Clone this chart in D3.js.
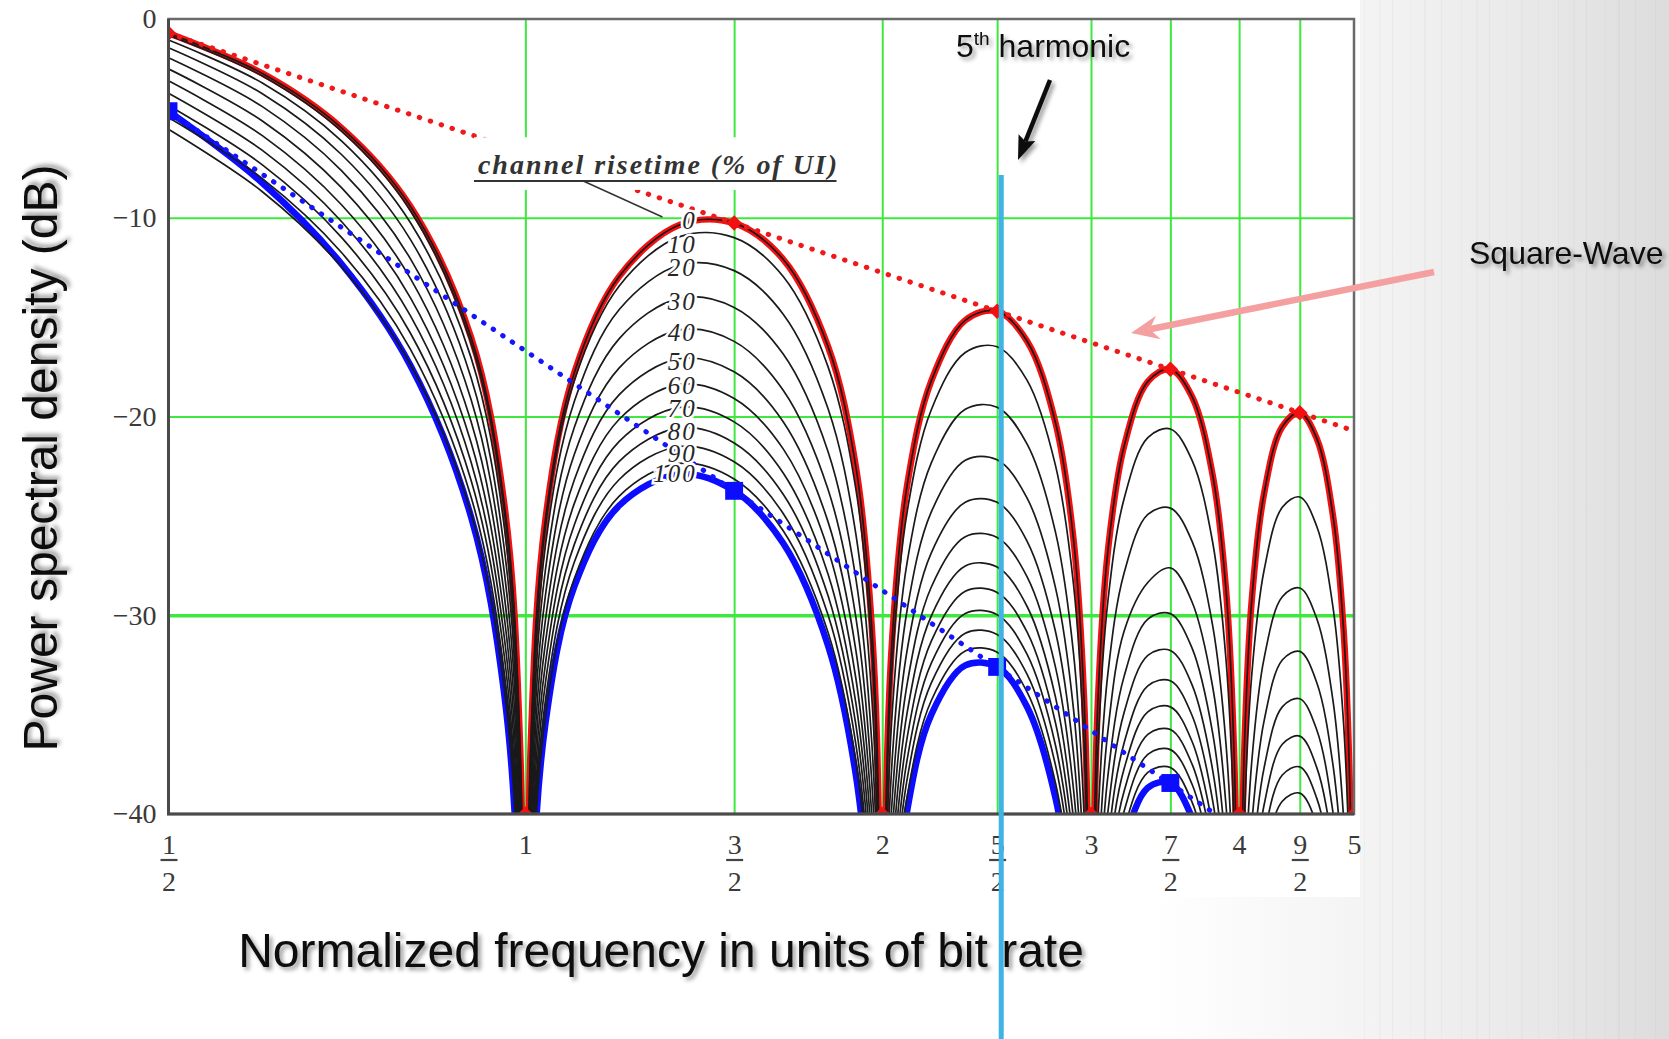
<!DOCTYPE html>
<html>
<head>
<meta charset="utf-8">
<script src="https://cdn.jsdelivr.net/npm/d3@7"></script>
<style>
  html, body { margin: 0; padding: 0; background: #fff; }
  svg { display: block; }
</style>
</head>
<body>
<script>
// frequency grid, in units of bit rate
var freq = [0.5, 0.6, 0.7, 0.8, 0.9, 0.96, 0.99, 1.0,
            1.01, 1.04, 1.1, 1.2, 1.35, 1.5, 1.65, 1.8, 1.9, 1.96, 1.99, 2.0,
            2.01, 2.04, 2.1, 2.2, 2.35, 2.5, 2.65, 2.8, 2.9, 2.96, 2.99, 3.0,
            3.01, 3.04, 3.1, 3.2, 3.35, 3.5, 3.65, 3.8, 3.9, 3.96, 3.99, 4.0,
            4.01, 4.04, 4.1, 4.2, 4.35, 4.5, 4.65, 4.8, 4.9, 4.96, 4.99, 5.0];

// PSD (dB) per channel risetime (values below -40 are off-chart)
var rt0   = [-0.72, -2.74, -5.49, -9.43, -16.03, -24.43, -36.72, -80,
             -36.89, -25.12, -17.77, -12.95, -10.35, -10.27, -12.09, -16.47, -22.52, -30.63, -42.78, -80,
             -42.87, -30.98, -23.39, -18.21, -15.16, -14.70, -16.21, -20.31, -26.19, -34.21, -46.32, -80,
             -46.37, -34.44, -26.77, -21.47, -18.24, -17.62, -18.99, -22.96, -28.76, -36.74, -48.82, -80,
             -48.87, -36.91, -29.20, -23.83, -20.51, -19.81, -21.09, -24.99, -30.75, -38.69, -50.77, -80];
var rt10  = [-0.81, -2.87, -5.66, -9.65, -16.31, -24.75, -37.05, -80,
             -37.24, -25.49, -18.18, -13.43, -10.95, -11.00, -12.96, -17.49, -23.64, -31.82, -44.00, -80,
             -44.11, -32.25, -24.73, -19.66, -16.78, -16.49, -18.18, -22.46, -28.46, -36.55, -48.70, -80,
             -48.8, -36.88, -29.29, -24.11, -21.06, -20.63, -22.19, -26.34, -32.27, -40.32, -52.4, -80,
             -52.5, -40.59, -32.95, -27.70, -24.57, -24.05, -25.51, -29.59, -35.46, -43.47, -55.6, -80];
var rt20  = [-1.06, -3.22, -6.14, -10.25, -17.05, -25.57, -37.93, -80,
             -38.14, -26.43, -19.22, -14.62, -12.38, -12.66, -14.85, -19.60, -25.90, -34.16, -46.38, -80,
             -46.52, -34.71, -27.26, -22.33, -19.64, -19.53, -21.39, -25.82, -31.93, -40.08, -52.25, -80,
             -52.3, -40.48, -32.94, -27.85, -24.93, -24.61, -26.27, -30.53, -36.52, -44.61, -56.8, -80,
             -56.8, -44.92, -37.32, -32.13, -29.07, -28.63, -30.15, -34.30, -40.22, -48.3, -60.3, -80];
var rt30  = [-1.45, -3.76, -6.83, -11.10, -18.06, -26.68, -39.08, -80,
             -39.32, -27.66, -20.53, -16.08, -14.04, -14.51, -16.86, -21.76, -28.15, -36.45, -48.70, -80,
             -48.86, -37.06, -29.66, -24.80, -22.20, -22.18, -24.11, -28.61, -34.75, -42.92, -55.11, -80,
             -55.2, -43.36, -35.83, -30.78, -28.35, -27.62, -29.32, -33.61, -39.61, -47.72, -59.9, -80,
             -60.0, -48.05, -40.46, -35.28, -32.25, -31.82, -33.37, -37.53, -43.45, -51.5, -63.6, -80];
var rt40  = [-1.95, -4.41, -7.64, -12.07, -19.16, -27.86, -40.30, -80,
             -40.57, -28.95, -21.89, -17.55, -15.64, -16.22, -18.68, -23.66, -30.09, -38.42, -50.69, -80,
             -50.85, -39.07, -31.69, -26.86, -24.31, -24.32, -26.28, -30.82, -36.98, -45.16, -57.35, -80,
             -57.4, -45.60, -38.09, -33.05, -30.19, -29.92, -31.64, -35.94, -41.96, -50.06, -62.2, -80,
             -62.3, -50.40, -42.81, -37.64, -34.61, -34.20, -35.75, -39.92, -45.85, -53.9, -66.0, -80];
var rt50  = [-2.51, -5.13, -8.50, -13.06, -20.27, -29.03, -41.49, -80,
             -41.78, -30.18, -23.17, -18.90, -17.09, -17.75, -20.26, -25.29, -31.75, -40.10, -52.36, -80,
             -52.53, -40.75, -33.39, -28.58, -26.05, -26.09, -28.07, -32.61, -38.78, -46.97, -59.16, -80,
             -59.3, -47.42, -39.91, -34.87, -32.02, -31.77, -33.49, -37.80, -43.82, -51.93, -64.1, -80,
             -64.2, -52.26, -44.68, -39.51, -36.49, -36.08, -37.64, -41.81, -47.74, -55.8, -67.9, -80];
var rt60  = [-3.11, -5.87, -9.36, -14.03, -21.32, -30.12, -42.61, -80,
             -42.91, -31.33, -24.36, -20.14, -18.38, -19.09, -21.63, -26.69, -33.17, -41.53, -53.80, -80,
             -53.97, -42.20, -34.84, -30.03, -27.52, -27.57, -29.56, -34.12, -40.29, -48.48, -60.68, -80,
             -60.8, -48.94, -41.43, -36.40, -33.55, -33.30, -35.03, -39.34, -45.36, -53.47, -65.7, -80,
             -65.7, -53.81, -46.22, -41.06, -38.04, -37.63, -39.19, -43.36, -49.30, -57.4, -69.5, -80];
var rt70  = [-3.73, -6.61, -10.20, -14.94, -22.30, -31.14, -43.64, -80,
             -43.95, -32.38, -25.43, -21.25, -19.54, -20.27, -22.84, -27.92, -34.41, -42.77, -55.04, -80,
             -55.22, -43.45, -36.09, -31.30, -28.79, -28.85, -30.85, -35.41, -41.59, -49.78, -61.97, -80,
             -62.1, -50.23, -42.73, -37.70, -34.86, -34.61, -36.34, -40.65, -46.67, -54.78, -67.0, -80,
             -67.0, -55.12, -47.54, -42.38, -39.36, -38.95, -40.51, -44.68, -50.62, -58.7, -70.8, -80];
var rt80  = [-4.35, -7.34, -11.00, -15.81, -23.22, -32.08, -44.59, -80,
             -44.90, -33.35, -26.42, -22.26, -20.57, -21.33, -23.91, -29.01, -35.50, -43.87, -56.14, -80,
             -56.32, -44.55, -37.20, -32.41, -29.91, -29.97, -31.97, -36.54, -42.72, -50.91, -63.11, -80,
             -63.2, -51.37, -43.86, -38.83, -35.99, -35.75, -37.48, -41.79, -47.82, -55.93, -68.1, -80,
             -68.2, -56.27, -48.69, -43.52, -40.51, -40.10, -41.66, -45.83, -51.77, -59.9, -71.9, -80];
var rt90  = [-4.96, -8.03, -11.76, -16.62, -24.06, -32.94, -45.46, -80,
             -45.78, -34.23, -27.31, -23.17, -21.51, -22.28, -24.88, -29.98, -36.48, -44.85, -57.12, -80,
             -57.30, -45.53, -38.18, -33.40, -30.90, -30.97, -32.97, -37.54, -43.72, -51.91, -64.11, -80,
             -64.2, -52.37, -44.87, -39.84, -37.00, -36.76, -38.49, -42.80, -48.83, -56.94, -69.1, -80,
             -69.2, -57.28, -49.70, -44.53, -41.52, -41.11, -42.67, -46.85, -52.79, -60.9, -72.9, -80];
var rt100 = [-5.55, -8.69, -12.48, -17.37, -24.85, -33.74, -46.26, -80,
             -46.59, -35.05, -28.14, -24.01, -22.36, -23.14, -25.75, -30.86, -37.36, -45.73, -58.01, -80,
             -58.18, -46.42, -39.07, -34.29, -31.80, -31.86, -33.87, -38.44, -44.62, -52.82, -65.01, -80,
             -65.1, -53.27, -45.77, -40.74, -37.91, -37.66, -39.39, -43.71, -49.74, -57.85, -70.0, -80,
             -70.1, -58.19, -50.61, -45.44, -42.43, -42.02, -43.58, -47.76, -53.70, -61.8, -73.8, -80];
// thick blue curve
var blueCurve = [-4.64, -8.25, -12.34, -17.44, -25.06, -34.02, -46.58, -80,
                 -46.92, -35.40, -28.54, -24.48, -22.90, -23.74, -26.38, -31.52, -38.04, -46.42, -58.7, -80,
                 -58.88, -47.12, -39.78, -35.00, -32.52, -32.60, -34.62, -39.20, -45.38, -53.58, -65.8, -80,
                 -66.0, -54.04, -46.54, -41.52, -38.68, -38.44, -40.18, -44.50, -50.50, -58.60, -70.8, -80,
                 -71.0, -59.0, -51.4, -46.2, -43.2, -42.8, -44.4, -48.6, -54.5, -62.5, -74.7, -80];

var riseSeries = [rt0, rt10, rt20, rt30, rt40, rt50, rt60, rt70, rt80, rt90, rt100];
var riseNames  = ["0", "10", "20", "30", "40", "50", "60", "70", "80", "90", "100"];
var riseLabelDb = [-10.15, -11.35, -12.5, -14.2, -15.75, -17.2, -18.45, -19.6, -20.75, -21.85, -22.85];

// dotted envelopes
var squareEnvFreq = [0.5, 5];
var squareEnvDb   = [-0.72, -20.72];
var blueEnvFreq   = [0.5, 3.82];
var blueEnvDb     = [-4.64, -40];

var peakFreq = [0.5, 1.5, 2.5, 3.5, 4.5];
var bluePeakFreq = [0.5, 1.5, 2.5, 3.5];
var nullFreq = [1, 2, 3, 4, 5];
var harmonicFreq = 2.52;

var yTicks = [0, -10, -20, -30, -40];
var yTickLabels = ["0", "\u221210", "\u221220", "\u221230", "\u221240"];
var xTicks = [0.5, 1, 1.5, 2, 2.5, 3, 3.5, 4, 4.5, 5];
var xTickNum = ["1", "1", "3", "2", "5", "3", "7", "4", "9", "5"];
var xTickDen = ["2", "", "2", "", "2", "", "2", "", "2", ""];
var gridX = [1, 1.5, 2, 2.5, 3, 3.5, 4, 4.5];
var gridY = [-10, -20, -30];

var width = 1669, height = 1039;
var plot = {left: 168.5, right: 1354, top: 19, bottom: 814};

var x = d3.scaleLog().domain([0.5, 5]).range([plot.left, plot.right]);
var y = d3.scaleLinear().domain([-40, 0]).range([plot.bottom, plot.top]);

var svg = d3.select("body").append("svg").attr("width", width).attr("height", height);
var defs = svg.append("defs");

// slide background
var bg = defs.append("linearGradient").attr("id", "slideBg").attr("gradientUnits", "userSpaceOnUse")
    .attr("x1", 1150).attr("x2", width).attr("y1", 0).attr("y2", 0);
bg.append("stop").attr("offset", 0).attr("stop-color", "#ffffff");
bg.append("stop").attr("offset", 0.4).attr("stop-color", "#f4f4f4");
bg.append("stop").attr("offset", 0.75).attr("stop-color", "#e8e8e8");
bg.append("stop").attr("offset", 1).attr("stop-color", "#dcdcdc");

var stripes = defs.append("pattern").attr("id", "stripes").attr("patternUnits", "userSpaceOnUse")
    .attr("width", 97).attr("height", 130);
[[6, 1, 0.025], [21, 2, 0.018], [34, 1, 0.03], [52, 1, 0.015], [66, 2, 0.022], [83, 1, 0.025]].forEach(function(s) {
    stripes.append("rect").attr("x", s[0]).attr("y", 0).attr("width", s[1]).attr("height", 130)
        .attr("fill", "#000").attr("opacity", s[2]);
});

var shadow = defs.append("filter").attr("id", "shadow").attr("x", "-10%").attr("y", "-40%")
    .attr("width", "130%").attr("height", "190%");
shadow.append("feDropShadow").attr("dx", 3).attr("dy", 3).attr("stdDeviation", 2)
    .attr("flood-color", "#000").attr("flood-opacity", 0.4);

defs.append("clipPath").attr("id", "plotClip").append("rect")
    .attr("x", plot.left).attr("y", plot.top)
    .attr("width", plot.right - plot.left).attr("height", plot.bottom - plot.top);

svg.append("rect").attr("width", width).attr("height", height).attr("fill", "url(#slideBg)");
svg.append("rect").attr("x", 1360).attr("width", width - 1360).attr("height", height).attr("fill", "url(#stripes)");
svg.append("rect").attr("x", 0).attr("y", 0).attr("width", 1360).attr("height", 897).attr("fill", "#fff");

// grid
svg.append("g").attr("transform", "translate(0," + plot.bottom + ")")
    .call(d3.axisBottom(x).tickValues(gridX).tickSize(-(plot.bottom - plot.top)).tickFormat(""))
    .call(function(g) { g.select(".domain").remove(); })
    .selectAll("line").attr("stroke", "#3ee83e").attr("stroke-width", 2);

svg.append("g").attr("transform", "translate(" + plot.left + ",0)")
    .call(d3.axisLeft(y).tickValues(gridY).tickSize(-(plot.right - plot.left)).tickFormat(""))
    .call(function(g) { g.select(".domain").remove(); })
    .selectAll("line").attr("stroke", "#3ee83e")
    .attr("stroke-width", function(d) { return d === -30 ? 3.5 : 2; });

// curves
var line = d3.line()
    .x(function(d, i) { return x(freq[i]); })
    .y(function(d) { return y(d); })
    .curve(d3.curveCatmullRom.alpha(0.5));

var curves = svg.append("g").attr("clip-path", "url(#plotClip)");

curves.append("path").attr("d", line(rt0)).attr("fill", "none")
    .attr("stroke", "#f21010").attr("stroke-width", 6.5);
curves.append("path").attr("d", line(blueCurve)).attr("fill", "none")
    .attr("stroke", "#0c0cff").attr("stroke-width", 6.5);

curves.selectAll(".rise").data(riseSeries).enter().append("path")
    .attr("class", "rise").attr("d", function(d) { return line(d); })
    .attr("fill", "none").attr("stroke", "#1a1a1a").attr("stroke-width", 1.7);

var envLine = d3.line().x(function(d) { return x(d[0]); }).y(function(d) { return y(d[1]); });

curves.append("path").attr("d", envLine(d3.zip(squareEnvFreq, squareEnvDb)))
    .attr("fill", "none").attr("stroke", "#f01818").attr("stroke-width", 5)
    .attr("stroke-linecap", "round").attr("stroke-dasharray", "0.5 11");
curves.append("path").attr("d", envLine(d3.zip(blueEnvFreq, blueEnvDb)))
    .attr("fill", "none").attr("stroke", "#1414ff").attr("stroke-width", 5)
    .attr("stroke-linecap", "round").attr("stroke-dasharray", "0.5 11");

// markers
function valueAt(series, f) { return series[freq.indexOf(f)]; }

curves.selectAll(".redMark").data(peakFreq).enter().append("path")
    .attr("class", "redMark")
    .attr("d", d3.symbol().type(d3.symbolSquare).size(120))
    .attr("transform", function(d) { return "translate(" + x(d) + "," + y(valueAt(rt0, d)) + ") rotate(45)"; })
    .attr("fill", "#f21010");
curves.selectAll(".redNull").data(nullFreq).enter().append("path")
    .attr("class", "redNull")
    .attr("d", d3.symbol().type(d3.symbolSquare).size(110))
    .attr("transform", function(d) { return "translate(" + x(d) + "," + y(y.domain()[0]) + ") rotate(45)"; })
    .attr("fill", "#f21010");
curves.selectAll(".blueMark").data(bluePeakFreq).enter().append("path")
    .attr("class", "blueMark")
    .attr("d", d3.symbol().type(d3.symbolSquare).size(320))
    .attr("transform", function(d) { return "translate(" + x(d) + "," + y(valueAt(blueCurve, d)) + ")"; })
    .attr("fill", "#0c0cff");

// frame
svg.append("rect").attr("x", plot.left).attr("y", plot.top)
    .attr("width", plot.right - plot.left).attr("height", plot.bottom - plot.top)
    .attr("fill", "none").attr("stroke", "#6a6a6a").attr("stroke-width", 2.5);
svg.append("path").attr("d", "M" + plot.left + "," + plot.top + "V" + plot.bottom + "H" + plot.right)
    .attr("fill", "none").attr("stroke", "#4a4a4a").attr("stroke-width", 3);

// axes labels
var tickFont = "'Liberation Serif', 'Times New Roman', serif";

var yAxisG = svg.append("g").attr("transform", "translate(" + plot.left + ",0)")
    .call(d3.axisLeft(y).tickValues(yTicks).tickSize(0).tickPadding(12)
        .tickFormat(function(d, i) { return yTickLabels[i]; }));
yAxisG.select(".domain").remove();
yAxisG.selectAll("text").attr("font-family", tickFont).attr("font-size", 28).attr("fill", "#3a3a3a");

var xAxisG = svg.append("g").attr("transform", "translate(0," + plot.bottom + ")")
    .call(d3.axisBottom(x).tickValues(xTicks).tickSize(0).tickPadding(20)
        .tickFormat(function(d, i) { return xTickNum[i]; }));
xAxisG.select(".domain").remove();
xAxisG.selectAll("text").attr("font-family", tickFont).attr("font-size", 28).attr("fill", "#3a3a3a");
xAxisG.selectAll(".tick").each(function(d, i) {
    if (!xTickDen[i]) return;
    var t = d3.select(this);
    t.append("line").attr("x1", -8.5).attr("x2", 8.5).attr("y1", 46).attr("y2", 46)
        .attr("stroke", "#444").attr("stroke-width", 2.2);
    t.append("text").attr("y", 77).attr("fill", "#3a3a3a").attr("font-family", tickFont)
        .attr("font-size", 28).attr("text-anchor", "middle").text(xTickDen[i]);
});

// risetime labels
svg.append("g").selectAll("text").data(riseNames).enter().append("text")
    .attr("x", x(1.395)).attr("y", function(d, i) { return y(riseLabelDb[i]); })
    .attr("dy", "0.35em").attr("text-anchor", "end")
    .attr("font-family", tickFont).attr("font-style", "italic").attr("font-size", 25)
    .attr("letter-spacing", 2).attr("fill", "#262626")
    .attr("stroke", "#fff").attr("stroke-width", 5).attr("paint-order", "stroke")
    .text(function(d) { return d; });

// "channel risetime" label box
svg.append("rect").attr("x", x(0.905)).attr("y", y(-5.95))
    .attr("width", x(1.86) - x(0.905)).attr("height", y(-8.6) - y(-5.95)).attr("fill", "#fff");
svg.append("text").attr("x", x(0.912)).attr("y", y(-7.8))
    .attr("font-family", tickFont).attr("font-style", "italic").attr("font-weight", "bold")
    .attr("font-size", 28).attr("fill", "#333")
    .attr("textLength", x(1.832) - x(0.912)).attr("lengthAdjust", "spacing")
    .text("channel risetime (% of UI)");
svg.append("line").attr("x1", x(0.905)).attr("x2", x(1.83)).attr("y1", y(-8.15)).attr("y2", y(-8.15))
    .attr("stroke", "#333").attr("stroke-width", 2);
svg.append("line").attr("x1", x(1.119)).attr("y1", y(-8.15)).attr("x2", x(1.305)).attr("y2", y(-9.96))
    .attr("stroke", "#333").attr("stroke-width", 1.5);

// axis titles
var sans = "'Liberation Sans', Arial, Helvetica, sans-serif";
svg.append("text").attr("x", 661).attr("y", 967).attr("text-anchor", "middle")
    .attr("font-family", sans).attr("font-size", 48).attr("fill", "#111")
    .attr("filter", "url(#shadow)")
    .text("Normalized frequency in units of bit rate");
svg.append("text").attr("transform", "translate(57,458) rotate(-90)").attr("text-anchor", "middle")
    .attr("font-family", sans).attr("font-size", 48).attr("fill", "#111")
    .attr("filter", "url(#shadow)")
    .text("Power spectral density (dB)");

// annotations
function drawArrow(x1, y1, x2, y2, head, halfW, notch, color, w) {
    var dx = x2 - x1, dy = y2 - y1, len = Math.sqrt(dx * dx + dy * dy);
    var ux = dx / len, uy = dy / len, nx = -uy, ny = ux;
    var bx = x2 - ux * head, by = y2 - uy * head;
    var kx = x2 - ux * (head - notch), ky = y2 - uy * (head - notch);
    var g = svg.append("g");
    g.append("line").attr("x1", x1).attr("y1", y1).attr("x2", kx).attr("y2", ky)
        .attr("stroke", color).attr("stroke-width", w);
    g.append("path").attr("d", "M" + x2 + "," + y2 +
            "L" + (bx + nx * halfW) + "," + (by + ny * halfW) +
            "L" + kx + "," + ky +
            "L" + (bx - nx * halfW) + "," + (by - ny * halfW) + "Z")
        .attr("fill", color);
    return g;
}

var harm = svg.append("text").attr("x", 956).attr("y", 57)
    .attr("font-family", sans).attr("font-size", 32).attr("fill", "#111").attr("filter", "url(#shadow)");
harm.append("tspan").text("5");
harm.append("tspan").attr("font-size", 19).attr("dy", -12).text("th");
harm.append("tspan").attr("dy", 12).text(" harmonic");

drawArrow(1050, 80, 1018, 160, 24, 9, 4, "#111", 4.5).attr("filter", "url(#shadow)");

svg.append("text").attr("x", 1469).attr("y", 264)
    .attr("font-family", sans).attr("font-size", 32).attr("fill", "#111").attr("filter", "url(#shadow)")
    .text("Square-Wave");

drawArrow(1434, 272, 1131, 333, 28, 12, 9, "#f5a0a0", 6.5);

// 5th harmonic marker line
svg.append("line").attr("x1", x(harmonicFreq)).attr("x2", x(harmonicFreq))
    .attr("y1", 175).attr("y2", height)
    .attr("stroke", "#3fb3e6").attr("stroke-width", 5);
</script>
</body>
</html>
